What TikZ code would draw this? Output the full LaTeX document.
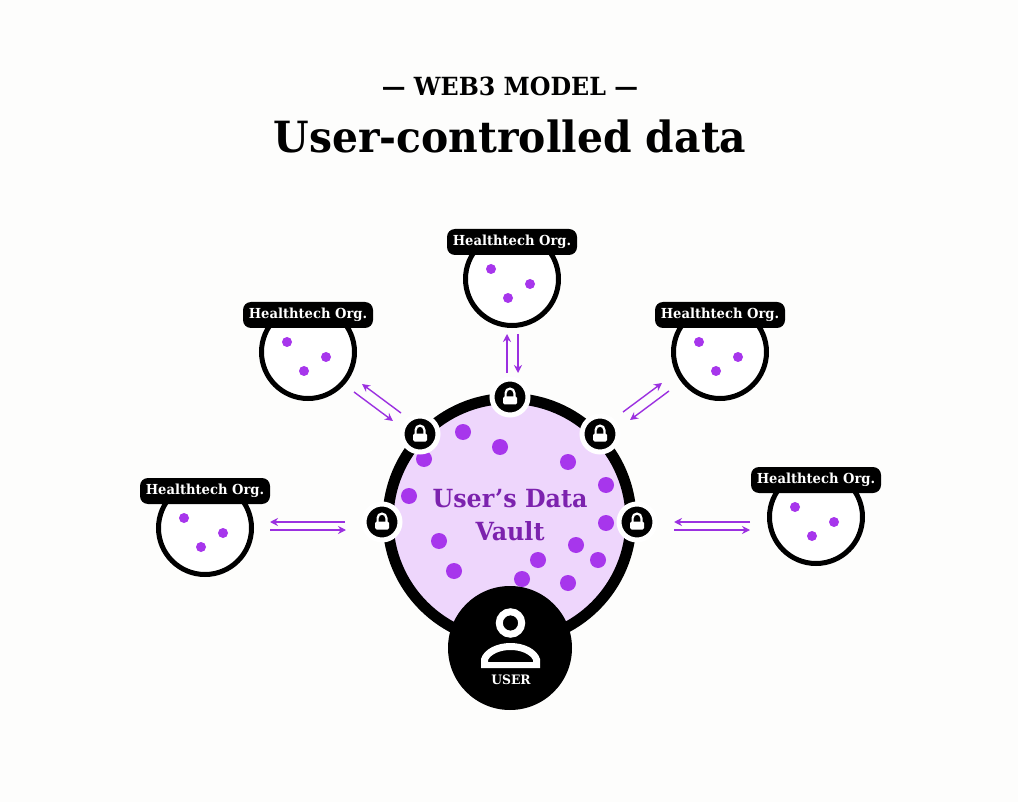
\documentclass[tikz,border=0pt]{standalone}
\usepackage{fontspec}
\setmainfont{DejaVu Serif}[FakeStretch=0.95]
\usetikzlibrary{arrows.meta,shadows}

\definecolor{pagebg}{HTML}{FDFDFC}
\definecolor{vaultfill}{HTML}{EED6FC}
\definecolor{vaulttext}{HTML}{7C22AE}
\definecolor{dotcol}{HTML}{A736EC}
\definecolor{arrowcol}{HTML}{9B30E0}

\tikzset{
    org/.style={circle, draw=black, fill=white, line width=5pt, minimum size=93pt, inner sep=0pt},
    orglabel/.style={rounded corners=8pt, fill=black, text=white, minimum width=130pt, minimum height=26pt,
        inner sep=0pt, font=\bfseries\fontsize{13.8}{16}\selectfont},
    lock/.style={circle, fill=black, draw=white, line width=5pt, minimum size=36pt, inner sep=0pt,
        drop shadow={opacity=0.15, shadow xshift=0pt, shadow yshift=0pt, shadow scale=1.1}},
    dot/.style={circle, fill=dotcol, minimum size=16pt, inner sep=0pt},
    smalldot/.style={circle, fill=dotcol, minimum size=10pt, inner sep=0pt},
    flow/.style={draw=arrowcol, line width=1.4pt, -{Stealth[length=8pt,width=8pt]}}
}

\begin{document}
\begin{tikzpicture}[x=1pt, y=-1pt]
    \fill[pagebg] (0,0) rectangle (1018,802);
    \useasboundingbox (0,0) rectangle (1018,802);

    % Title
    \node (kicker) at (510,86) {\bfseries\fontsize{25}{28}\selectfont --- WEB3 MODEL ---};
    \node (title) at (510,136) {\bfseries\fontsize{43}{48}\selectfont User-controlled data};

    % Vault
    \node[circle, draw=black, fill=vaultfill, line width=11pt, minimum size=243pt, inner sep=0pt] (vault) at (509.5,520) {};
    \foreach \x/\y [count=\i] in {463/432, 500/447, 424/459, 568/462, 606/485, 409/496, 606/523,
                                  439/541, 576/545, 538/560, 598/560, 454/571, 522/579, 568/583}
        \node[dot] (d\i) at (\x,\y) {};
    \node[text=vaulttext, align=center, font=\bfseries\fontsize{25}{33}\selectfont] (vaulttitle) at (510,515) {User’s Data\\Vault};

    % Orgs
    \foreach \name/\x/\y in {top/512/279, upleft/308/352, upright/720/352, left/205/528, right/816/517} {
        \node[org] (\name) at (\x,\y) {};
        \node[smalldot] (\name a) at (\x-21,\y-10) {};
        \node[smalldot] (\name b) at (\x+18,\y+5) {};
        \node[smalldot] (\name c) at (\x-4,\y+19) {};
        \node[orglabel] (\name l) at (\x,\y-37) {Healthtech Org.};
    }

    % Locks
    \foreach \name/\x/\y in {ltop/510/397, lupleft/420/434, lupright/600/434, lleft/382/522, lright/637/522} {
        \node[lock] (\name) at (\x,\y) {};
        \fill[white, rounded corners=1.5pt] (\x-7,\y-0.5) rectangle (\x+7,\y+7.5);
        \draw[white, line width=2.2pt] (\x-4.4,\y) -- (\x-4.4,\y-4) arc[start angle=180, end angle=360, radius=4.4] -- (\x+4.4,\y);
    }

    % Arrow ends
    \coordinate (t1) at (507,373); \coordinate (t2) at (507,334);
    \coordinate (t3) at (518,334); \coordinate (t4) at (518,373);
    \coordinate (ul1) at (401,413); \coordinate (ul2) at (362,384);
    \coordinate (ul3) at (354,392); \coordinate (ul4) at (393,421);
    \coordinate (ur1) at (623,412); \coordinate (ur2) at (662,383);
    \coordinate (ur3) at (669,391); \coordinate (ur4) at (630,420);
    \coordinate (l1) at (345,522); \coordinate (l2) at (270,522);
    \coordinate (l3) at (270,530); \coordinate (l4) at (346,530);
    \coordinate (r1) at (750,522); \coordinate (r2) at (674,522);
    \coordinate (r3) at (674,530); \coordinate (r4) at (750,530);

    \foreach \a/\b in {t1/t2, t3/t4, ul1/ul2, ul3/ul4, ur1/ur2, ur3/ur4, l1/l2, l3/l4, r1/r2, r3/r4}
        \draw[flow] (\a) -- (\b);

    % User
    \node[circle, fill=black, minimum size=124pt, inner sep=0pt] (user) at (510,648) {};
    \draw[white, line width=7pt] (510.5,623) circle (11.2pt);
    \fill[white, even odd rule] (481,668) -- (481,659) .. controls (484,649) and (497,643) .. (510.5,643)
        .. controls (524,643) and (537,649) .. (540,659) -- (540,668) -- cycle
        (488,662) -- (533,662) -- (533,660) .. controls (530,654) and (521,650) .. (510.5,650)
        .. controls (500,650) and (491,654) .. (488,660) -- cycle;
    \node[text=white, font=\bfseries\fontsize{13}{15}\selectfont] (usertext) at (511,680) {USER};
\end{tikzpicture}
\end{document}
